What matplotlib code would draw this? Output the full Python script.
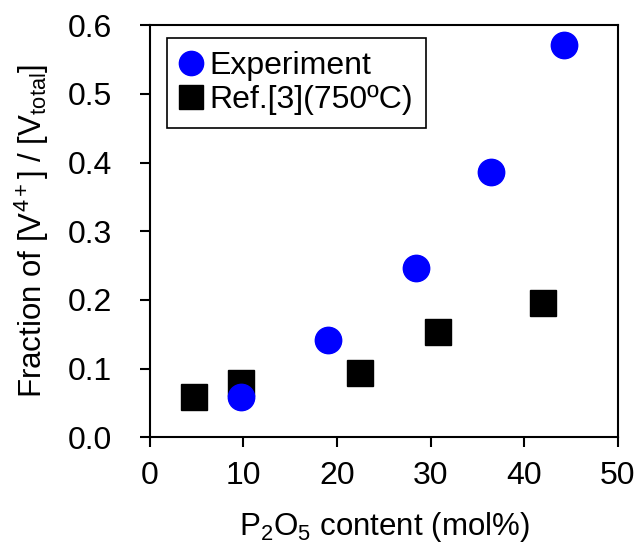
"""
Fraction of V4+ vs P2O5 content.
"""
import matplotlib
matplotlib.use('Agg')
import matplotlib.pyplot as plt

plt.rcParams['font.family'] = ['Liberation Sans', 'DejaVu Sans']
plt.rcParams['mathtext.fontset'] = 'custom'
plt.rcParams['mathtext.rm'] = 'Liberation Sans'
plt.rcParams['mathtext.it'] = 'Liberation Sans:italic'

# Experiment (blue circles)
exp_x = [9.7, 19.0, 28.4, 36.5, 44.2]
exp_y = [0.058, 0.142, 0.246, 0.386, 0.571]

# Ref.[3] at 750 C (black squares)
ref_x = [4.7, 9.7, 22.5, 30.8, 42.0]
ref_y = [0.058, 0.079, 0.094, 0.154, 0.196]

x_ticks = [0, 10, 20, 30, 40, 50]
y_ticks = [0.0, 0.1, 0.2, 0.3, 0.4, 0.5, 0.6]

fig = plt.figure(figsize=(6.35, 5.5), dpi=100)
ax = fig.add_axes([0.236, 0.205, 0.737, 0.749])

ax.plot(ref_x, ref_y, linestyle='none', marker='s', markersize=19,
        color='black', label='Ref.[3](750ºC)', zorder=2)
ax.plot(exp_x, exp_y, linestyle='none', marker='o', markersize=19,
        color='#0000ff', label='Experiment', zorder=3)

ax.set_xlim(0, 50)
ax.set_ylim(0, 0.6)
ax.set_xticks(x_ticks)
ax.set_yticks(y_ticks)
ax.set_yticklabels([f'{v:.1f}' for v in y_ticks])
ax.tick_params(direction='out', length=7, width=1.5, labelsize=23,
               top=False, right=False)
ax.tick_params(axis='y', pad=20)
ax.tick_params(axis='x', pad=10)
for sp in ax.spines.values():
    sp.set_linewidth(1.5)

ax.set_xlabel(r'P$_2$O$_5$ content (mol%)', fontsize=22.5, labelpad=14)
ax.set_ylabel(r'Fraction of [V$^{4+}$] / [V$_{\rm total}$]', fontsize=22.5, labelpad=12)

handles, labels = ax.get_legend_handles_labels()
leg = ax.legend(handles[::-1], labels[::-1], loc='upper left',
                bbox_to_anchor=(0.036, 0.969), borderaxespad=0,
                fontsize=23, frameon=True,
                fancybox=False, edgecolor='black', framealpha=1,
                handlelength=0.7, handletextpad=0.25, borderpad=0.4,
                labelspacing=0.12, markerscale=0.92)
leg.get_frame().set_linewidth(1.2)

fig.savefig('out.png', dpi=100)
